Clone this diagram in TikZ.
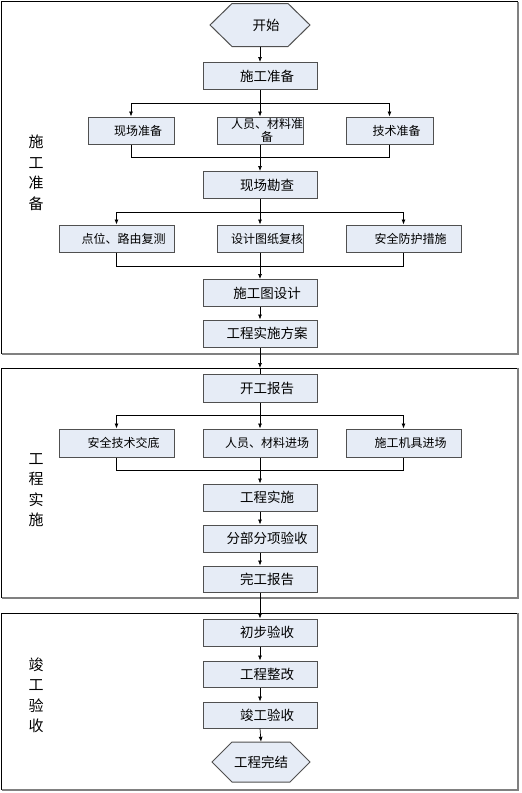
\documentclass[tikz,border=0pt]{standalone}
\usepackage{fontspec}
\setmainfont{Noto Sans CJK SC}
\usetikzlibrary{arrows.meta, calc}

\definecolor{boxfill}{HTML}{E6ECF6}
\definecolor{boxline}{HTML}{505050}
\definecolor{frameshade}{HTML}{808080}

\tikzset{
  procbox/.style={draw=boxline, line width=1pt, fill=boxfill, inner sep=0pt,
    minimum width=114pt, minimum height=27pt,
    font=\fontsize{13.5}{15}\selectfont,
    execute at begin node={\hspace*{14pt}}},
  sidebox/.style={procbox, font=\fontsize{12}{14}\selectfont},
  hexline/.style={draw=boxline, line width=1pt, fill=boxfill},
  hexlabel/.style={inner sep=0pt, minimum width=100pt, minimum height=43pt,
    font=\fontsize{13.5}{15}\selectfont},
  phaselabel/.style={align=center, inner sep=0pt, font=\fontsize{15}{20.5}\selectfont},
  arr/.style={-{Latex[length=5pt,width=4pt]}, line width=0.7pt},
  link/.style={line width=0.7pt},
}

\begin{document}
\begin{tikzpicture}[x=1pt,y=-1pt]
\path[fill=white] (0,0) rectangle (522,793);
\useasboundingbox (0,0) rectangle (522,793);

%%%%%%%%%%%%%%%%%%%%%%%%%%%%%%%%%%%%%%%%
% frames
\draw[line width=1pt] (518,1.5)--(1.5,1.5)--(1.5,354);
\draw[frameshade,line width=1.5pt] (1.5,354)--(518,354)--(518,1.5);

\draw[line width=1pt] (518,368)--(1.5,368)--(1.5,598);
\draw[frameshade,line width=1.5pt] (1.5,598)--(518,598)--(518,368);

\draw[line width=1pt] (518,613)--(1.5,613)--(1.5,790);
\draw[frameshade,line width=1.5pt] (1.5,790)--(518,790)--(518,613);

\node[phaselabel] (lab1) at (36,173) {施\\工\\准\\备};
\node[phaselabel] (lab2) at (36,490) {工\\程\\实\\施};
\node[phaselabel] (lab3) at (36,695) {竣\\工\\验\\收};

%%%%%%%%%%%%%%%%%%%%%%%%%%%%%%%%%%%%%%%%
% preparation
\draw[hexline] (210,25)--(232,3.5)--(288,3.5)--(310,25)--(288,46.5)--(232,46.5)--cycle;
\node[hexlabel, execute at begin node={\hspace*{12pt}}] (start) at (260,25) {开始};

\node[procbox] (sgzb) at (260,76) {施工准备};

\node[sidebox, minimum width=86pt] (xczb) at (131,130.5) {现场准备};
\node[sidebox, minimum width=86pt, align=center, font=\fontsize{12}{13}\selectfont] (rycl) at (260,130.5) {人员、材料准\\备};
\node[sidebox, minimum width=87pt] (jszb) at (389.5,130.5) {技术准备};

\node[procbox] (xckc) at (260,185) {现场勘查};

\node[sidebox, minimum width=115pt] (dwfc) at (116.5,238.5) {点位、路由复测};
\node[sidebox, minimum width=86pt] (sjfh) at (260,238.5) {设计图纸复核};
\node[sidebox, minimum width=115pt] (aqfh) at (403.5,238.5) {安全防护措施};

\node[procbox] (sgtsj) at (260,293) {施工图设计};
\node[procbox] (gcfa) at (260,333.5) {工程实施方案};

\draw[arr] (start.south) -- (sgzb.north);
\draw[arr] (sgzb.south) -- (rycl.north);
\draw[arr] (sgzb.south) ++(0,13) -| (xczb.north);
\draw[arr] (sgzb.south) ++(0,13) -| (jszb.north);
\draw[link] (xczb.south) -- ++(0,13) -| (jszb.south);
\draw[arr] (rycl.south) -- (xckc.north);

\draw[arr] (xckc.south) -- (sjfh.north);
\draw[arr] (xckc.south) ++(0,13) -| (dwfc.north);
\draw[arr] (xckc.south) ++(0,13) -| (aqfh.north);
\draw[link] (dwfc.south) -- ++(0,14) -| (aqfh.south);
\draw[arr] (sjfh.south) -- (sgtsj.north);
\draw[arr] (sgtsj.south) -- (gcfa.north);

%%%%%%%%%%%%%%%%%%%%%%%%%%%%%%%%%%%%%%%%
% construction
\coordinate (fr2in) at (260,368);

\node[procbox, minimum height=28pt] (kgbg) at (260,388) {开工报告};

\node[sidebox, minimum width=115pt, minimum height=28pt] (aqjd) at (116.5,443) {安全技术交底};
\node[sidebox, minimum height=28pt] (rycljc) at (260,443) {人员、材料进场};
\node[sidebox, minimum width=115pt, minimum height=28pt] (sgjj) at (403.5,443) {施工机具进场};

\node[procbox] (gcss) at (260,497.5) {工程实施};
\node[procbox] (fbys) at (260,538.5) {分部分项验收};
\node[procbox, minimum height=26pt] (wgbg) at (260,579) {完工报告};

\draw[arr] (gcfa.south) -- (fr2in);
\draw[link] (fr2in) -- (kgbg.north);
\draw[arr] (kgbg.south) -- (rycljc.north);
\draw[arr] (kgbg.south) ++(0,13) -| (aqjd.north);
\draw[arr] (kgbg.south) ++(0,13) -| (sgjj.north);
\draw[link] (aqjd.south) -- ++(0,13) -| (sgjj.south);
\draw[arr] (rycljc.south) -- (gcss.north);
\draw[arr] (gcss.south) -- (fbys.north);
\draw[arr] (fbys.south) -- (wgbg.north);

%%%%%%%%%%%%%%%%%%%%%%%%%%%%%%%%%%%%%%%%
% acceptance
\node[procbox] (cbys) at (260,632.5) {初步验收};
\node[procbox, minimum height=26pt] (gczg) at (260,674) {工程整改};
\node[procbox, minimum height=26pt] (jgys) at (260,715) {竣工验收};

\draw[hexline] (212,762)--(232,742)--(290,742)--(310,762)--(290,782)--(232,782)--cycle;
\node[hexlabel, minimum width=98pt, minimum height=40pt] (finish) at (261,762) {工程完结};

\draw[arr] (wgbg.south) -- (cbys.north);
\draw[arr] (cbys.south) -- (gczg.north);
\draw[arr] (gczg.south) -- (jgys.north);
\draw[arr] (jgys.south) -- (finish.north);

\end{tikzpicture}
\end{document}
